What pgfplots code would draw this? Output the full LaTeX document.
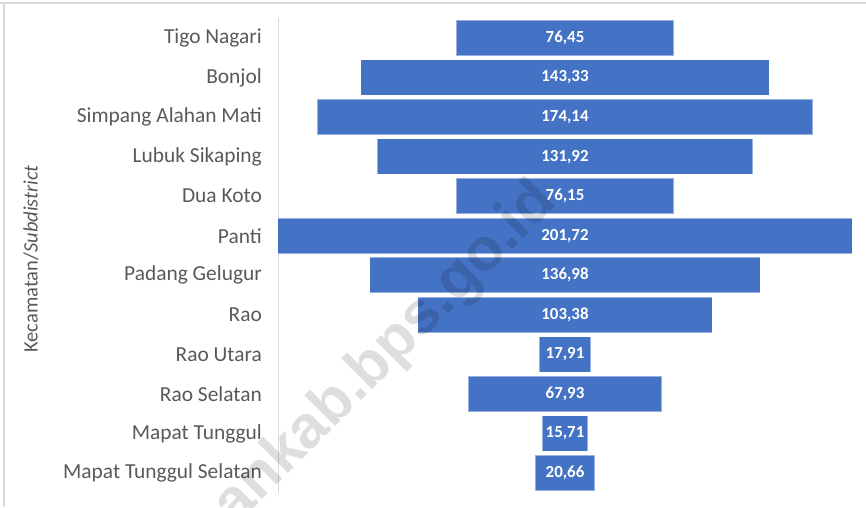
\documentclass[border=0pt]{standalone}
\usepackage{fontspec}
\setmainfont{Carlito}
\newfontfamily\wmfont{Liberation Sans}
\usepackage{pgfplots}
\usepackage{pgfplotstable}
\pgfplotsset{compat=1.18}
\definecolor{barblue}{HTML}{4472C4}
\definecolor{labgray}{HTML}{595959}
\definecolor{linegray}{HTML}{D9D9D9}

\pgfplotstableread{
idx v
0 76.45
1 143.33
2 174.14
3 131.92
4 76.15
5 201.72
6 136.98
7 103.38
8 17.91
9 67.93
10 15.71
11 20.66
}\data

\begin{document}
\begin{tikzpicture}
\useasboundingbox (0,0) rectangle (866pt,507pt);
\draw[linegray, line width=1.2pt] (0,504pt) -- (866pt,504pt);
\draw[linegray, line width=1.2pt] (4pt,0) -- (4pt,504pt);
\begin{axis}[
  at={(278pt,14.25pt)}, anchor=south west,
  width=574pt, height=474.5pt, scale only axis,
  xmin=-100.86, xmax=100.86,
  ymin=-0.5, ymax=11.5, y dir=reverse,
  axis x line=none,
  axis y line=left,
  y axis line style={draw=linegray, line width=0.8pt, -},
  major tick length=0pt,
  ytick={0,...,11},
  yticklabels={Tigo Nagari, Bonjol, Simpang Alahan Mati, Lubuk Sikaping, Dua Koto, Panti, Padang Gelugur, Rao, Rao Utara, Rao Selatan, Mapat Tunggul, Mapat Tunggul Selatan},
  yticklabel style={font=\fontsize{21.4}{24}\selectfont, text=labgray, anchor=east, inner sep=0pt, xshift=-16pt},
  clip=false,
]
% outline (light edge)
\addplot[draw=none, mark=none,
  error bars/.cd, x dir=both, x explicit, error mark=none,
  error bar style={line width=35.6pt, color=white!45!barblue}]
  table[x expr=0, y=idx, x error expr=\thisrow{v}/2+0.12] {\data};
% bars
\addplot[draw=none, mark=none,
  error bars/.cd, x dir=both, x explicit, error mark=none,
  error bar style={line width=34.4pt, color=barblue}]
  table[x expr=0, y=idx, x error expr=\thisrow{v}/2-0.12] {\data};
% value labels
\addplot[draw=none, mark=none,
  point meta=explicit,
  nodes near coords,
  nodes near coords align={center},
  every node near coord/.append style={anchor=center, text=white, inner sep=0pt, font=\bfseries\fontsize{16.9}{18}\selectfont},
  /pgf/number format/.cd, fixed, fixed zerofill, precision=2, use comma, assume math mode=true]
  table[x expr=0, y=idx, meta=v] {\data};
\end{axis}
\node[rotate=90, text=labgray, font=\fontsize{20.5}{24}\selectfont] at (31pt,248pt) {Kecamatan/\textit{Subdistrict}};
\node[rotate=45, anchor=base east, text=black, opacity=0.13, font=\wmfont\bfseries\fontsize{60}{62}\selectfont] at (561pt,306pt) {pasamankab.bps.go.id};
\end{tikzpicture}
\end{document}
